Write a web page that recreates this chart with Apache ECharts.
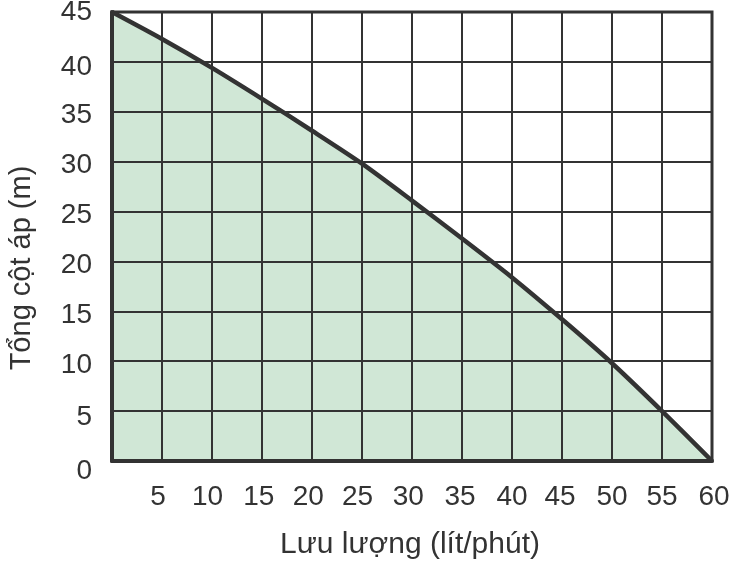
<!DOCTYPE html>
<html><head><meta charset="utf-8">
<script src="https://cdn.jsdelivr.net/npm/echarts@6/dist/echarts.min.js"></script>
<style>html,body{margin:0;padding:0;background:#fff}#c{width:733px;height:561px}</style>
</head><body><div id="c"></div>
<script>
// ---- data ----
const flowRate = [0, 5, 10, 15, 20, 25, 30, 35, 40, 45, 50, 55, 60];
const totalHead = [45, 42.3, 39.4, 36.3, 33.1, 29.8, 26.1, 22.3, 18.4, 14.2, 9.8, 5.0, 0];
const xTickLabels = [5, 10, 15, 20, 25, 30, 35, 40, 45, 50, 55, 60];
const yTickLabels = [0, 5, 10, 15, 20, 25, 30, 35, 40, 45];
const xTitle = 'Lưu lượng (lít/phút)';
const yTitle = 'Tổng cột áp (m)';

// ---- style ----
const FONT = '"Liberation Sans", Arial, Helvetica, sans-serif';
const TXT = '#333';
const xShift = {5:-4,10:-4.5,15:-3.3,20:-3.7,25:-4.5,30:-3.7,35:-2,40:0,45:-2,50:0,55:0,60:2};
const yShift = {0:10,5:6,10:4,15:4,20:4,25:4,30:4,35:4,40:5,45:0};

const xRich = {}, yRich = {};
xTickLabels.forEach(v => {
  const s = xShift[v] || 0;
  xRich['x' + v] = {fontSize: 28, fontFamily: FONT, color: TXT,
    padding: s < 0 ? [0, -2 * s, 0, 0] : [0, 0, 0, 2 * s]};
});
yTickLabels.forEach(v => {
  const s = yShift[v] || 0;
  yRich['y' + v] = {fontSize: 28, fontFamily: FONT, color: TXT,
    padding: s > 0 ? [2 * s, 0, 0, 0] : [0, 0, -2 * s, 0]};
});

const pts = flowRate.map((x, i) => [x, totalHead[i]]);
const chart = echarts.init(document.getElementById('c'), null, {renderer: 'canvas'});
chart.setOption({
  animation: false,
  grid: {left: 112, top: 12, width: 600, height: 449, show: true, borderColor: '#333',
         borderWidth: 3, backgroundColor: 'transparent', z: 4, outerBoundsMode: 'none', containLabel: false},
  xAxis: {
    type: 'value', min: 0, max: 60, interval: 5, z: 3,
    axisLine: {show: true, onZero: false, lineStyle: {color: '#333', width: 4}},
    axisTick: {show: false},
    splitLine: {show: true, lineStyle: {color: '#333', width: 2}},
    axisLabel: {
      margin: 22, fontSize: 28, fontFamily: FONT, color: TXT, showMinLabel: true,
      formatter: v => xTickLabels.indexOf(v) >= 0 ? '{x' + v + '|' + v + '}' : '',
      rich: xRich
    }
  },
  yAxis: {
    type: 'value', min: 0, max: 45, interval: 5, z: 3,
    axisLine: {show: true, onZero: false, lineStyle: {color: '#333', width: 4}},
    axisTick: {show: false},
    splitLine: {show: true, lineStyle: {color: '#333', width: 2}},
    axisLabel: {
      margin: 20, fontSize: 28, fontFamily: FONT, color: TXT,
      formatter: v => '{y' + v + '|' + v + '}',
      rich: yRich
    }
  },
  series: [
    {type: 'line', data: pts, smooth: 0.25, symbol: 'none', z: 1,
     lineStyle: {width: 0, color: 'transparent'},
     areaStyle: {color: '#d0e7d6', opacity: 1}, silent: true},
    {type: 'line', data: pts, smooth: 0.25, symbol: 'none', z: 5,
     lineStyle: {width: 4.5, color: '#333'}, silent: true}
  ],
  graphic: [
    {type: 'text', x: 410, y: 545, z: 10,
     style: {text: xTitle, font: '30px ' + FONT, fill: TXT, align: 'center', verticalAlign: 'middle'}},
    {type: 'text', x: 22, y: 268, rotation: Math.PI / 2, z: 10,
     style: {text: yTitle, font: '29px ' + FONT, fill: TXT, align: 'center', verticalAlign: 'middle'}}
  ]
});
</script>
</body></html>
